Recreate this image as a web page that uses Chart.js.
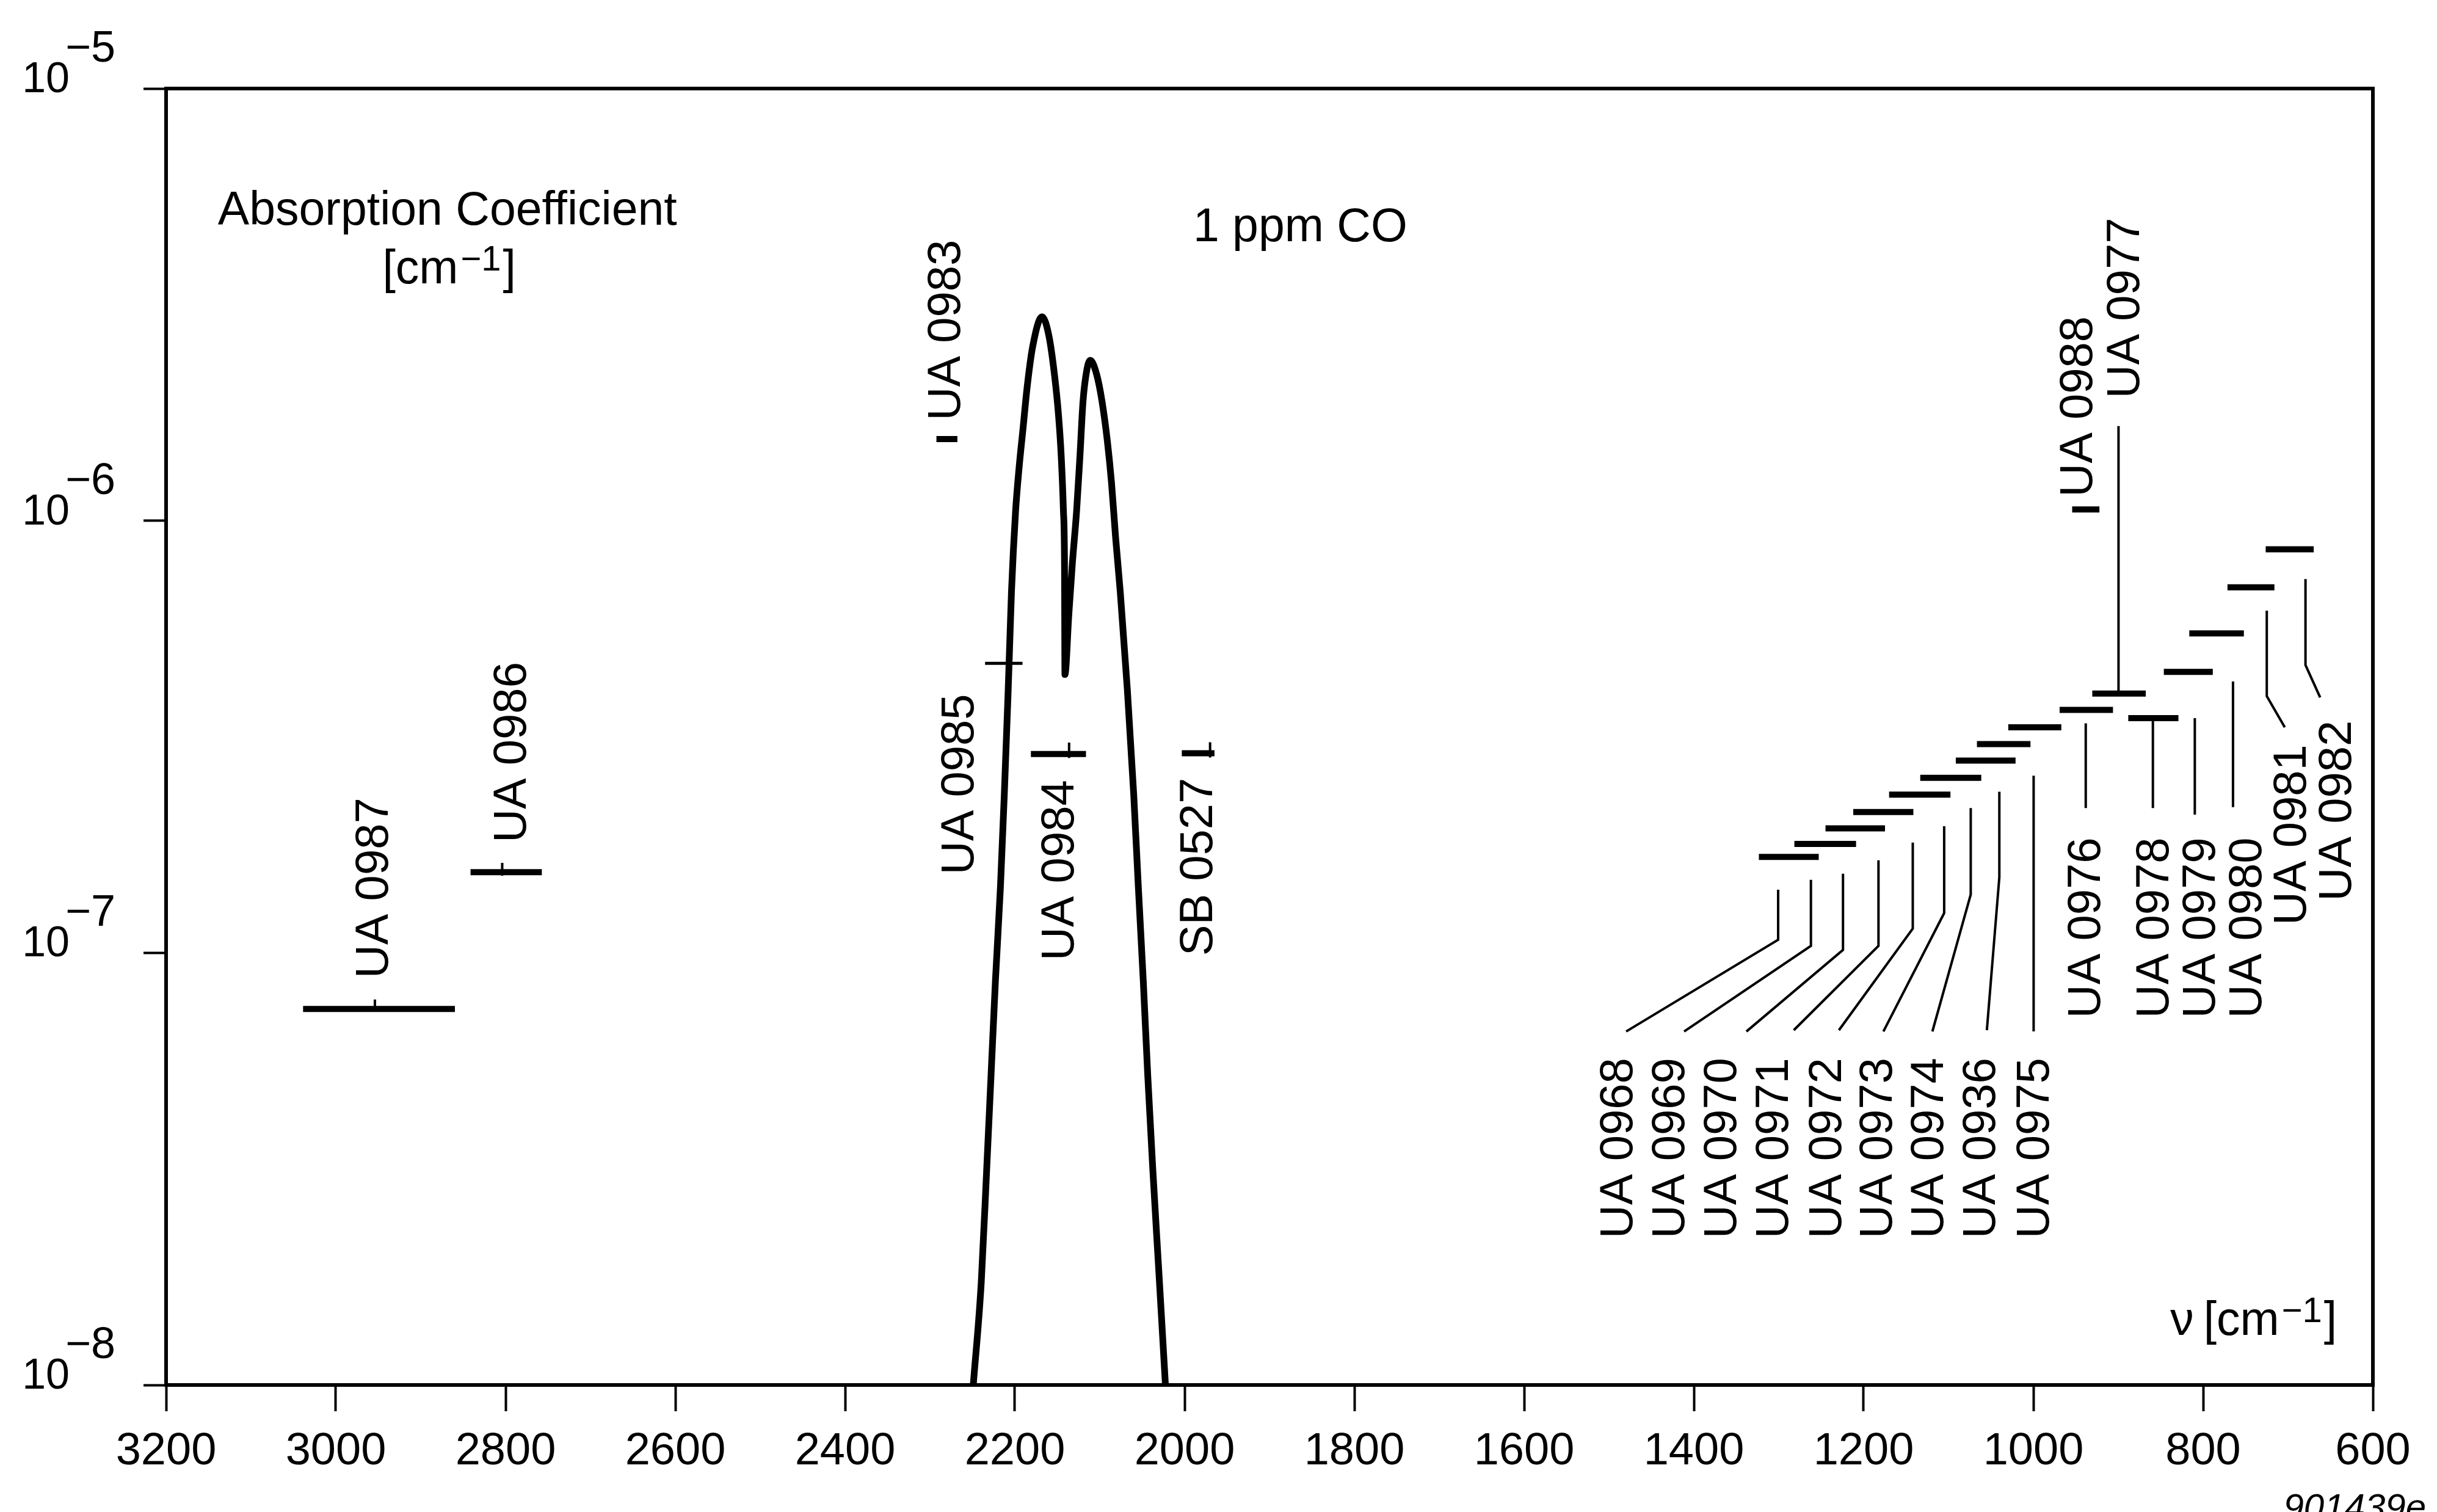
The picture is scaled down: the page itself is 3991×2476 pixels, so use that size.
<!DOCTYPE html>
<html>
<head>
<meta charset="utf-8">
<title>1 ppm CO – absorption coefficient</title>
<script src="https://cdn.jsdelivr.net/npm/chart.js@4.4.0/dist/chart.umd.min.js"></script>
<style>
  html, body { margin: 0; padding: 0; background: #fff; }
  canvas { display: block; }
</style>
</head>
<body>
<canvas id="chart" width="3991" height="2476" style="width:3991px;height:2476px"></canvas>
<script>
// decade ticks of the absorption axis
const yTickValues = [1e-8, 1e-7, 1e-6, 1e-5];
const yTickExponents = ['−8', '−7', '−6', '−5'];

// absorption band of 1 ppm CO (wavenumber in cm-1, coefficient in cm-1)
const coWavenumber = [2249, 2239.6, 2233.1, 2228.0, 2222.9, 2217.0, 2212.4, 2208.0, 2204.0, 2201.8,
  2199.1, 2195.2, 2190.4, 2185.6, 2179.1, 2167.9, 2159.9, 2153.4, 2148.6, 2145.4,
  2142.8, 2141.5, 2141.0, 2136.5, 2132.3, 2127.2, 2123.3, 2119.7, 2114.9, 2111.1,
  2103.7, 2097.3, 2090.9, 2086.1, 2081.3, 2075.8, 2067.5, 2060.0, 2054.5, 2048.7,
  2043.5, 2037.6, 2029.6, 2022.6];
const coAbsorption = [1.0e-8, 1.726e-8, 3.184e-8, 5.236e-8, 8.61e-8, 1.419e-7, 2.333e-7, 3.981e-7, 6.839e-7, 8.492e-7,
  1.057e-6, 1.315e-6, 1.633e-6, 2.032e-6, 2.523e-6, 2.965e-6, 2.679e-6, 2.183e-6, 1.758e-6, 1.413e-6,
  1.057e-6, 7.943e-7, 4.406e-7, 6.026e-7, 7.943e-7, 1.057e-6, 1.413e-6, 1.888e-6, 2.249e-6, 2.35e-6,
  2.183e-6, 1.888e-6, 1.521e-6, 1.222e-6, 9.141e-7, 6.839e-7, 4.074e-7, 2.333e-7, 1.419e-7, 8.61e-8,
  5.236e-8, 3.184e-8, 1.726e-8, 1.0e-8];

// detection limits of the devices: wavenumber range and level
const barNames = ['UA 0987', 'UA 0986', 'UA 0983', 'UA 0985', 'UA 0984', 'SB 0527',
  'UA 0968', 'UA 0969', 'UA 0970', 'UA 0971', 'UA 0972', 'UA 0973', 'UA 0974', 'UA 0936',
  'UA 0975', 'UA 0976', 'UA 0977', 'UA 0978', 'UA 0979', 'UA 0980', 'UA 0981', 'UA 0982', 'UA 0988'];
const barFrom = [3038.6, 2841.3, 2292.4, 2235.1, 2181.1, 2003.3,
  1323.4, 1281.6, 1244.9, 1212.2, 1170.0, 1133.3, 1091.4, 1066.5,
  1029.6, 969.1, 930.6, 888.2, 846.3, 816.3, 771.3, 726.3, 954.3];
const barTo = [2859.7, 2757.3, 2267.7, 2191.0, 2116.2, 1964.8,
  1252.9, 1208.9, 1174.8, 1141.4, 1097.7, 1061.4, 1021.0, 1003.4,
  967.1, 906.2, 867.6, 829.1, 788.6, 752.0, 716.0, 669.7, 922.2];
const barLevel = [7.413e-8, 1.537e-7, 1.545e-6, 4.677e-7, 2.884e-7, 2.897e-7,
  1.667e-7, 1.786e-7, 1.941e-7, 2.118e-7, 2.323e-7, 2.541e-7, 2.786e-7, 3.041e-7,
  3.327e-7, 3.648e-7, 3.981e-7, 3.491e-7, 4.467e-7, 5.483e-7, 7.015e-7, 8.59e-7, 1.062e-6];

// short vertical marks on some of the ranges
const markWavenumber = [2954, 2804, 2205, 2136.1, 1970];
const markTop = [7.8e-8, 1.615e-7, 5.08e-7, 3.065e-7, 3.07e-7];
const markBottom = [7.3e-8, 1.508e-7, 4.345e-7, 2.825e-7, 2.83e-7];

// leader lines from the ranges to their names
const leaderWavenumber = [
  [1300.7, 1300.7, 1479.8], [1262.1, 1262.1, 1411.5], [1224.3, 1224.3, 1338.1],
  [1182.5, 1182.5, 1282.3], [1142.1, 1142.1, 1229.1], [1105.1, 1105.1, 1176.7],
  [1073.8, 1073.8, 1119.0], [1040.1, 1040.1, 1054.8], [999.7, 999.7],
  [938.3, 938.3], [899.7, 899.7], [859.2, 859.2], [809.8, 809.8], [764.8, 764.8],
  [725.0, 725.0, 703.8], [679.4, 679.4, 662.1]];
const leaderLevel = [
  [1.400e-7, 1.072e-7, 6.577e-8], [1.476e-7, 1.038e-7, 6.577e-8], [1.524e-7, 1.016e-7, 6.577e-8],
  [1.637e-7, 1.038e-7, 6.622e-8], [1.799e-7, 1.138e-7, 6.622e-8], [1.963e-7, 1.236e-7, 6.577e-8],
  [2.163e-7, 1.365e-7, 6.577e-8], [2.360e-7, 1.496e-7, 6.622e-8], [2.570e-7, 6.577e-8],
  [3.396e-7, 2.163e-7], [3.981e-7, 1.656e-6], [3.491e-7, 2.163e-7], [3.491e-7, 2.089e-7], [4.246e-7, 2.173e-7],
  [6.194e-7, 3.926e-7, 3.327e-7], [7.328e-7, 4.634e-7, 3.899e-7]];

// device names, written upwards from the given foot point
const labelText = ['UA 0987', 'UA 0986', 'UA 0983', 'UA 0985', 'UA 0984', 'SB 0527',
  'UA 0968', 'UA 0969', 'UA 0970', 'UA 0971', 'UA 0972', 'UA 0973', 'UA 0974', 'UA 0936', 'UA 0975',
  'UA 0976', 'UA 0978', 'UA 0979', 'UA 0980', 'UA 0981', 'UA 0982', 'UA 0988', 'UA 0977'];
const labelWavenumber = [2954, 2791.4, 2279.6, 2263.7, 2146.3, 1983,
  1487.4, 1426.4, 1365.4, 1304.4, 1242.0, 1182.3, 1121.3, 1060.3, 997.3,
  936.9, 856.3, 801.6, 746.9, 694.4, 641.2, 946.2, 890.8];
const labelFoot = [8.73e-8, 1.799e-7, 1.706e-6, 1.517e-7, 9.594e-8, 9.84e-8,
  2.183e-8, 2.183e-8, 2.183e-8, 2.183e-8, 2.183e-8, 2.183e-8, 2.183e-8, 2.183e-8, 2.183e-8,
  7.063e-8, 7.063e-8, 7.063e-8, 7.063e-8, 1.159e-7, 1.318e-7, 1.135e-6, 1.919e-6];

const ink = '#000';
const family = "'Liberation Sans', Arial, Helvetica, sans-serif";
const thinBars = ['UA 0985'];

function segment(xs, ys, width) {
  return {
    data: xs.map((x, i) => ({ x: x, y: ys[i] })),
    borderColor: ink,
    borderWidth: width,
    pointRadius: 0,
    fill: false,
    tension: 0
  };
}

const datasets = [];
datasets.push({
  data: coWavenumber.map((x, i) => ({ x: x, y: coAbsorption[i] })),
  borderColor: ink,
  borderWidth: 11,
  pointRadius: 0,
  fill: false,
  cubicInterpolationMode: 'monotone',
  borderJoinStyle: 'round'
});
barFrom.forEach((f, i) => {
  const w = thinBars.includes(barNames[i]) ? 5 : 10;
  datasets.push(segment([f, barTo[i]], [barLevel[i], barLevel[i]], w));
});
markWavenumber.forEach((v, i) => {
  datasets.push(segment([v, v], [markTop[i], markBottom[i]], 4));
});
leaderWavenumber.forEach((xs, i) => {
  datasets.push(segment(xs, leaderLevel[i], 4));
});

// "[cm-1]" with a raised exponent
function drawUnit(ctx, px, py) {
  ctx.textAlign = 'left';
  ctx.textBaseline = 'alphabetic';
  ctx.font = `77px ${family}`;
  let cx = px;
  ctx.fillText('[cm', cx, py);
  cx += ctx.measureText('[cm').width + 4;
  ctx.font = `58px ${family}`;
  ctx.fillText('−1', cx, py - 21);
  cx += ctx.measureText('−1').width + 3;
  ctx.font = `77px ${family}`;
  ctx.fillText(']', cx, py);
}

const annotations = {
  id: 'annotations',
  afterDatasetsDraw(chart) {
    const { ctx, chartArea: a, scales: { x, y } } = chart;
    ctx.save();
    ctx.fillStyle = ink;
    ctx.strokeStyle = ink;

    // frame
    ctx.lineWidth = 6;
    ctx.strokeRect(a.left, a.top, a.right - a.left, a.bottom - a.top);

    // device names
    ctx.font = `76px ${family}`;
    ctx.textAlign = 'left';
    ctx.textBaseline = 'middle';
    labelText.forEach((t, i) => {
      const px = x.getPixelForValue(labelWavenumber[i]);
      const py = y.getPixelForValue(labelFoot[i]);
      ctx.save();
      ctx.translate(px, py);
      ctx.rotate(-Math.PI / 2);
      ctx.fillText(t, 0, 0);
      ctx.restore();
    });

    // decade labels 10^-n
    yTickValues.forEach((v, i) => {
      const py = y.getPixelForValue(v);
      ctx.font = `70px ${family}`;
      ctx.textBaseline = 'alphabetic';
      ctx.textAlign = 'right';
      ctx.fillText('10', a.left - 158, py + 6);
      ctx.textAlign = 'left';
      ctx.font = `72px ${family}`;
      ctx.fillText(yTickExponents[i], a.left - 165, py - 44);
    });

    // titles
    ctx.font = `77px ${family}`;
    ctx.textAlign = 'left';
    ctx.textBaseline = 'alphabetic';
    ctx.fillText('Absorption Coefficient', x.getPixelForValue(3139), y.getPixelForValue(4.842e-6));
    drawUnit(ctx, x.getPixelForValue(2945), y.getPixelForValue(3.54e-6));
    ctx.font = `77px ${family}`;
    ctx.fillText('1 ppm CO', x.getPixelForValue(1990), y.getPixelForValue(4.436e-6));

    // wavenumber axis title
    const ux = x.getPixelForValue(799.5);
    const uy = y.getPixelForValue(1.306e-8);
    ctx.font = `77px ${family}`;
    ctx.textAlign = 'right';
    ctx.fillText('ν', ux - 16, uy);
    drawUnit(ctx, ux, uy);

    // figure number
    ctx.font = `italic 60px ${family}`;
    ctx.textAlign = 'right';
    ctx.fillText('901439e', chart.width - 18, chart.height + 12);
    ctx.restore();
  }
};

new Chart(document.getElementById('chart'), {
  type: 'line',
  data: { datasets: datasets },
  options: {
    responsive: false,
    devicePixelRatio: 1,
    animation: false,
    layout: { padding: { top: 145, right: 105, left: 0, bottom: 0 } },
    plugins: { legend: { display: false }, tooltip: { enabled: false } },
    scales: {
      x: {
        type: 'linear',
        reverse: true,
        min: 600,
        max: 3200,
        border: { display: true, color: ink, width: 6 },
        grid: { drawOnChartArea: false, drawTicks: true, tickLength: 43, tickWidth: 4, tickColor: ink, color: ink },
        ticks: {
          stepSize: 200,
          autoSkip: false,
          maxRotation: 0,
          color: ink,
          padding: 22,
          font: { family: family, size: 74 },
          callback: (v) => String(v)
        },
        afterFit: (s) => { s.height = 208; }
      },
      y: {
        type: 'logarithmic',
        min: 1e-8,
        max: 1e-5,
        border: { display: true, color: ink, width: 6 },
        grid: { drawOnChartArea: false, drawTicks: true, tickLength: 37, tickWidth: 4, tickColor: ink, color: ink },
        ticks: { display: false },
        afterBuildTicks: (s) => { s.ticks = yTickValues.map(v => ({ value: v })); },
        afterFit: (s) => { s.width = 272; }
      }
    }
  },
  plugins: [annotations]
});
</script>
</body>
</html>
